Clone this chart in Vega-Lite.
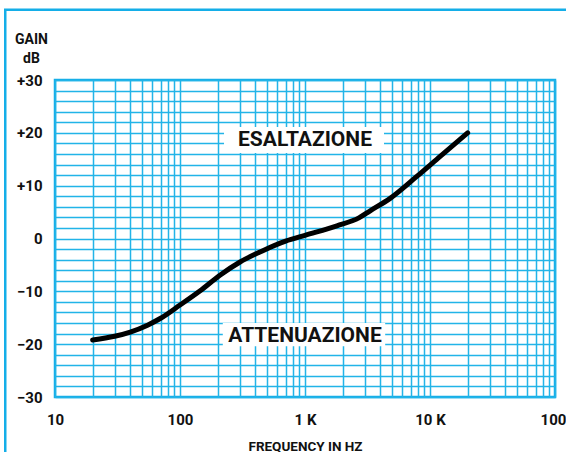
{
  "$schema": "https://vega.github.io/schema/vega-lite/v6.json",
  "autosize": {"type": "none"},
  "width": 500,
  "height": 317,
  "padding": {"left": 55, "top": 80, "right": 11, "bottom": 55},
  "background": "white",
  "config": {
    "view": {"stroke": "#14AEE8", "strokeWidth": 2.5},
    "font": "Roboto"
  },
  "datasets": {
    "curve": [
      {"x": 20, "y": -19.2}, {"x": 30, "y": -18.5}, {"x": 40, "y": -17.7},
      {"x": 55, "y": -16.4}, {"x": 70, "y": -15.1}, {"x": 100, "y": -12.6},
      {"x": 145, "y": -9.9}, {"x": 210, "y": -6.9}, {"x": 300, "y": -4.5},
      {"x": 460, "y": -2.3}, {"x": 700, "y": -0.5}, {"x": 1000, "y": 0.6},
      {"x": 1800, "y": 2.4}, {"x": 2700, "y": 3.9}, {"x": 3300, "y": 5.2},
      {"x": 4800, "y": 7.6}, {"x": 7800, "y": 11.7}, {"x": 12000, "y": 15.5},
      {"x": 20000, "y": 20}
    ],
    "boxes": [
      {"x": 225, "x2": 4285, "y": 21.1, "y2": 16.2},
      {"x": 220, "x2": 4380, "y": -16.0, "y2": -20.4}
    ],
    "labels": [
      {"x": 1000, "y": 18.6, "label": "ESALTAZIONE"},
      {"x": 1000, "y": -18.4, "label": "ATTENUAZIONE"}
    ],
    "frame": [
      {"x": 4, "x2": 10000000, "y": 43.3, "y2": -100}
    ]
  },
  "encoding": {
    "x": {
      "field": "x", "type": "quantitative",
      "scale": {"type": "log", "domain": [10, 100000], "nice": false, "zero": false},
      "axis": {
        "values": [10,20,30,40,50,60,70,80,90,100,200,300,400,500,600,700,800,900,1000,2000,3000,4000,5000,6000,7000,8000,9000,10000,20000,30000,40000,50000,60000,70000,80000,90000,100000],
        "labelExpr": "datum.value==10?'10':datum.value==100?'100':datum.value==1000?'1 K':datum.value==10000?'10 K':datum.value==100000?'100':''",
        "grid": true, "gridColor": "#22B4E8", "gridWidth": 1.5,
        "domain": false, "ticks": false,
        "labelFont": "Roboto", "labelFontSize": 15, "labelFontWeight": "bold", "labelColor": "#111111",
        "labelPadding": 15, "labelBaseline": "top", "labelOverlap": false, "labelFlush": false, "labelBound": false,
        "labelOffset": {"condition": {"test": "datum.value == 100000", "value": -2}, "value": 0},
        "title": "FREQUENCY IN HZ",
        "titleFont": "Roboto", "titleFontSize": 13.5, "titleFontWeight": "bold", "titleColor": "#111111",
        "titleX": 250, "titleY": 53, "titleBaseline": "alphabetic", "titleAnchor": null
      }
    },
    "y": {
      "field": "y", "type": "quantitative",
      "scale": {"domain": [-30, 30], "nice": false, "zero": false},
      "axis": {
        "values": [-30,-28,-26,-24,-22,-20,-18,-16,-14,-12,-10,-8,-6,-4,-2,0,2,4,6,8,10,12,14,16,18,20,22,24,26,28,30],
        "labelExpr": "datum.value % 10 != 0 ? '' : datum.value > 0 ? '+' + datum.value : datum.value < 0 ? '\u2212' + abs(datum.value) : '0'",
        "grid": true, "gridColor": "#22B4E8", "gridWidth": 1.5,
        "domain": false, "ticks": false,
        "labelFont": "Roboto", "labelFontSize": 15, "labelFontWeight": "bold", "labelColor": "#111111",
        "labelPadding": 13, "labelBaseline": "middle", "labelOverlap": false, "labelFlush": false, "labelBound": false,
        "title": ["GAIN", "dB"],
        "titleFont": "Roboto", "titleFontSize": 14, "titleFontWeight": "bold", "titleColor": "#111111",
        "titleAngle": 0, "titleX": -24, "titleY": -37, "titleAlign": "center", "titleBaseline": "alphabetic", "titleLineHeight": 19
      }
    }
  },
  "layer": [
    {
      "data": {"name": "frame"},
      "mark": {"type": "rect", "fill": null, "fillOpacity": 0, "stroke": "#14AEE8", "strokeWidth": 2.5, "clip": false},
      "encoding": {"x2": {"field": "x2"}, "y2": {"field": "y2"}}
    },
    {
      "data": {"name": "boxes"},
      "mark": {"type": "rect", "fill": "white", "stroke": null},
      "encoding": {"x2": {"field": "x2"}, "y2": {"field": "y2"}}
    },
    {
      "data": {"name": "curve"},
      "mark": {"type": "line", "color": "black", "strokeWidth": 5, "interpolate": "monotone", "strokeCap": "round"}
    },
    {
      "data": {"name": "labels"},
      "mark": {"type": "text", "font": "Roboto", "fontSize": 21, "fontWeight": "bold", "color": "#111111", "align": "center", "baseline": "middle"},
      "encoding": {"text": {"field": "label"}}
    }
  ]
}
